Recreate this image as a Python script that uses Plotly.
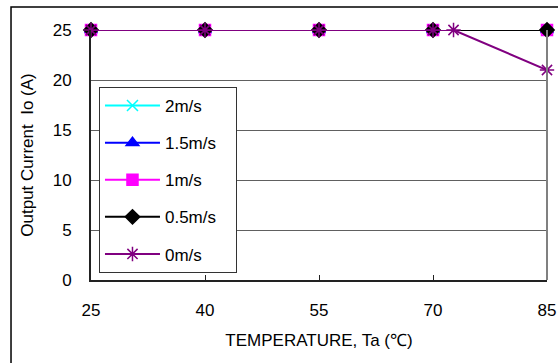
import plotly.graph_objs as go

# temperature (C) and output current (A) per airflow
temp = [25, 40, 55, 70, 85]
io_2ms = [25, 25, 25, 25, 25]
io_15ms = [25, 25, 25, 25, 25]
io_1ms = [25, 25, 25, 25, 25]
io_05ms = [25, 25, 25, 25, 25]
temp_0ms = [25, 40, 55, 70, 72.7, 85]
io_0ms = [25, 25, 25, 25, 25, 21]

x_ticks = [25, 40, 55, 70, 85]
y_ticks = [0, 5, 10, 15, 20, 25]

series = [
    ('2m/s', temp, io_2ms, '#00FFFF', 'x-thin-open', 11),
    ('1.5m/s', temp, io_15ms, '#0000FF', 'triangle-up', 11),
    ('1m/s', temp, io_1ms, '#FF00FF', 'square', 11),
    ('0.5m/s', temp, io_05ms, '#000000', 'diamond', 11),
    ('0m/s', temp_0ms, io_0ms, '#800080', 'asterisk-open', 12),
]

pad = '\u00a0' * 3  # widen the legend box a bit

fig = go.Figure()
for i, (name, xs, ys, col, sym, sz) in enumerate(series):
    fig.add_trace(go.Scatter(
        name=name + pad, x=xs, y=ys, mode='lines+markers',
        line=dict(color=col, width=2),
        marker=dict(color=col, symbol=sym, size=sz, line=dict(color=col, width=1.5)),
        legendgroup='g%d' % i,
        cliponaxis=False,
    ))

fig.update_layout(
    width=558, height=363,
    margin=dict(l=91, r=11, t=30, b=83),
    paper_bgcolor='white', plot_bgcolor='white',
    font=dict(family='Liberation Sans, Arial', size=17, color='black'),
    showlegend=True,
    legend=dict(
        x=0.0175, y=0.772, xanchor='left', yanchor='top',
        bgcolor='white', bordercolor='#333333', borderwidth=1,
        font=dict(size=17), tracegroupgap=12, traceorder='grouped',
        itemwidth=55,
    ),
    xaxis=dict(
        range=[25, 85], tickvals=x_ticks, showgrid=False, zeroline=False,
        showline=True, linecolor='#222222', linewidth=2,
        ticks='inside', ticklen=5, tickcolor='#222222',
        ticklabelstandoff=14, automargin=False,
        title=dict(text='TEMPERATURE, Ta (℃)', font=dict(size=17), standoff=15),
    ),
    yaxis=dict(
        range=[0, 25], tickvals=y_ticks, showgrid=True, gridcolor='#606060', gridwidth=1,
        zeroline=False, showline=True, linecolor='#222222', linewidth=2,
        ticks='', ticklabelstandoff=14, automargin=False,
        title=dict(text='Output Current  Io (A)', font=dict(size=17), standoff=15),
    ),
    shapes=[
        dict(type='line', xref='paper', yref='paper', x0=1, x1=1, y0=0, y1=1,
             line=dict(color='#808080', width=2)),
        dict(type='rect', xref='paper', yref='paper', x0=-0.1754, x1=1.2, y0=-0.6, y1=1.092,
             line=dict(color='black', width=1.5)),
    ],
)

fig.write_html("out.html", config={'displayModeBar': False},
               post_script="document.body.style.margin='0';")
